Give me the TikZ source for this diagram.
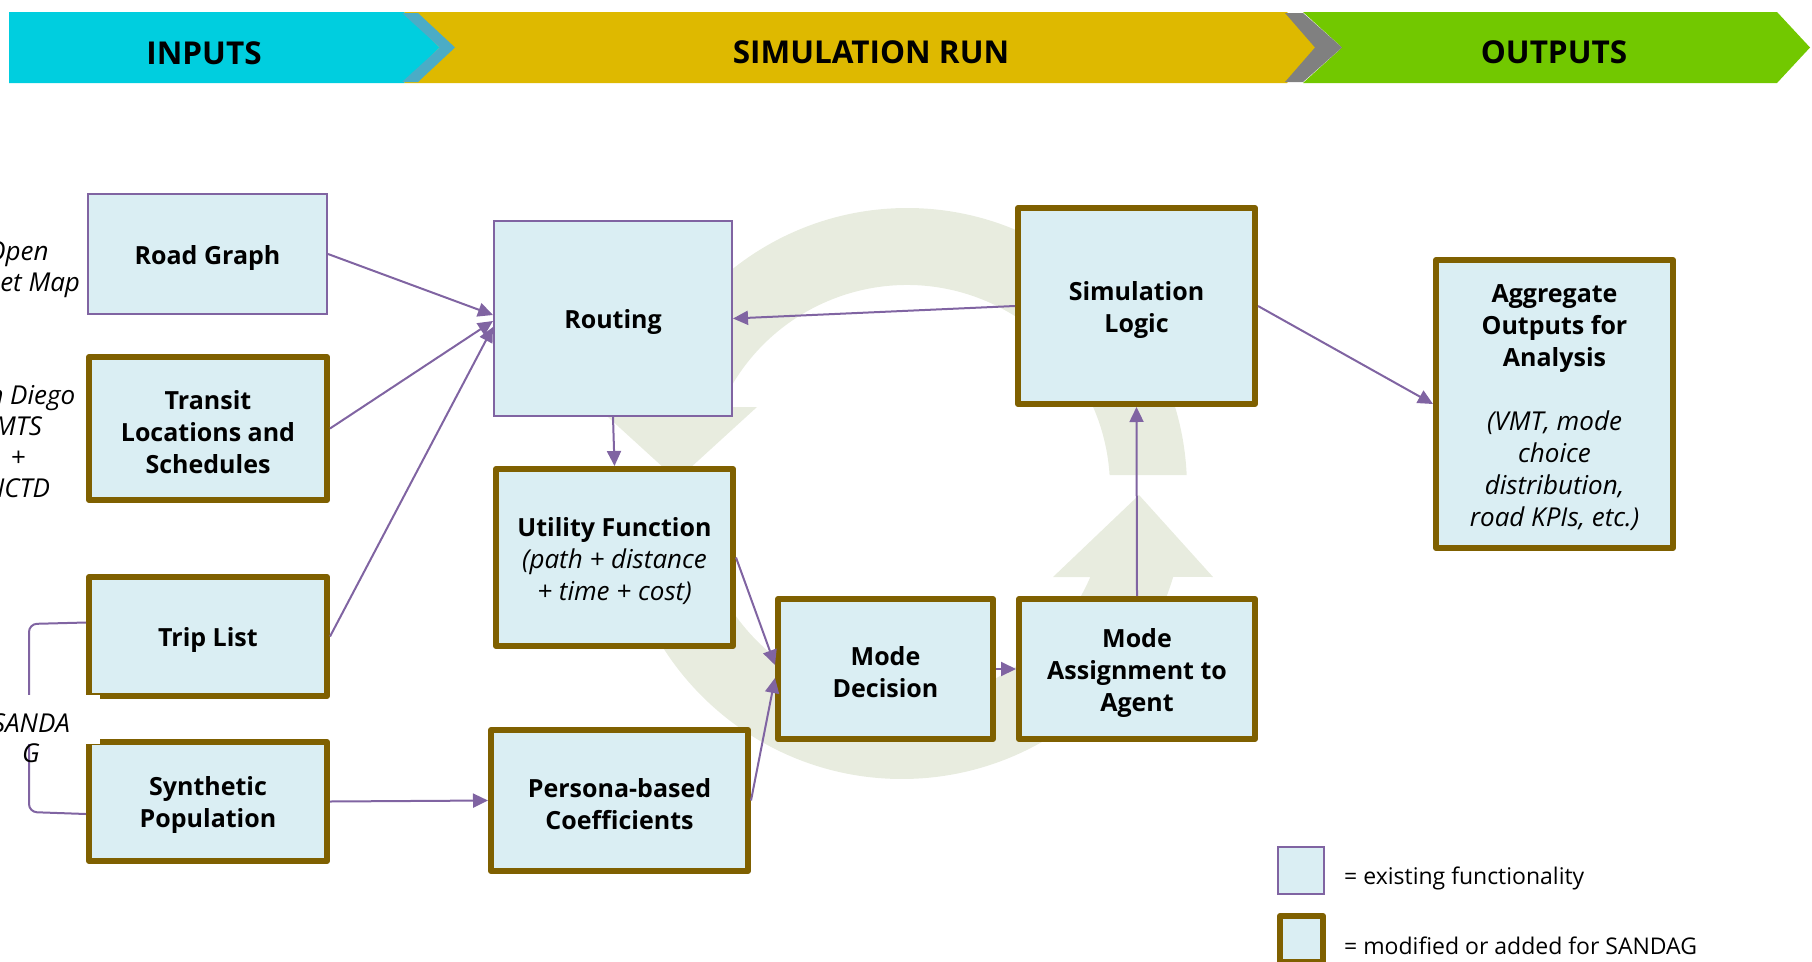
\documentclass[tikz,border=0pt]{standalone}
\usepackage{fontspec}
\setmainfont{Open Sans}
\usetikzlibrary{arrows.meta,calc}
\definecolor{fillblue}{HTML}{DAEEF3}
\definecolor{brownb}{HTML}{7F6000}
\definecolor{purp}{HTML}{8064A2}
\definecolor{ringc}{HTML}{E8ECDF}
\definecolor{cyanb}{HTML}{00CEDF}
\definecolor{yellowb}{HTML}{DEB900}
\definecolor{greenb}{HTML}{72C800}
\definecolor{stripeb}{HTML}{4BACC6}
\definecolor{stripeg}{HTML}{808080}
\newcommand\tup{\rule{0pt}{26pt}}
\newcommand\itl{\fontsize{26}{32}\selectfont\mdseries\itshape}
\begin{document}
\begin{tikzpicture}[x=1pt,y=-1pt,
  box/.style={rectangle, fill=fillblue, inner sep=0pt, align=center,
    font=\fontsize{25}{32}\selectfont\bfseries},
  thinbox/.style={box, draw=purp, line width=2pt},
  thickbox/.style={box, draw=brownb, line width=6pt, line join=round},
  conn/.style={draw=purp, line width=2pt, -{Triangle[length=15pt,width=14pt]}},
  bantext/.style={font=\fontsize{31.5}{36}\selectfont\bfseries, inner sep=0pt},
  lbl/.style={font=\fontsize{26}{31}\selectfont\itshape, align=center, inner sep=0pt},
  legtext/.style={font=\fontsize{23}{28}\selectfont, anchor=west, inner sep=0pt}
]
\useasboundingbox (0,0) rectangle (1812,961);
\clip (0,0) rectangle (1812,961);

% ---- banner ----
\fill[cyanb] (9,12) -- (404,12) -- (440,47.5) -- (404,83) -- (9,83) -- cycle;
\fill[yellowb] (404,12) -- (1287,12) -- (1316,47.5) -- (1287,83) -- (404,83) -- (440,47.5) -- cycle;
\fill[stripeb] (402,13) -- (418,13) -- (455,47.5) -- (418,82) -- (402,82) -- (440,47.5) -- cycle;
\fill[greenb] (1303,12) -- (1777,12) -- (1810,47.5) -- (1777,83) -- (1303,83) -- (1342,47.5) -- cycle;
\fill[stripeg] (1285,13) -- (1303,13) -- (1342,47.5) -- (1303,82) -- (1285,82) -- (1315,47.5) -- cycle;
\node[bantext] (tin) at (204,53.5) {INPUTS};
\node[bantext] (tsim) at (871,52.5) {SIMULATION RUN};
\node[bantext] (tout) at (1554,52.5) {OUTPUTS};

% ---- background cycle arrows ----
\coordinate (C) at (907,488);
\fill[ringc] ($(C)+(-2.66:280)$) arc[start angle=-2.66, end angle=-163.2, radius=280]
  -- (597,407) -- (677,480) -- (757,407)
  -- ($(C)+(-156.5:203)$) arc[start angle=-156.5, end angle=-3.67, radius=203] -- cycle;
\coordinate (C2) at (902,496);
\fill[ringc] ($(C2)+(179.2:283)$) arc[start angle=179.2, end angle=16.6, radius=283]
  -- (1213,577) -- (1139,495) -- (1053,577)
  -- ($(C2)+(23.3:205)$) arc[start angle=23.3, end angle=178.9, radius=205] -- cycle;

% ---- boxes ----
\node[thinbox, minimum width=239pt, minimum height=120pt] (road) at (207.5,254) {\tup Road Graph};
\node[thickbox, minimum width=238pt, minimum height=143pt] (transit) at (208,428.5) {\tup Transit\\Locations and\\Schedules};
\node[thickbox, minimum width=238pt, minimum height=119pt] (trip) at (208,636.5) {\tup Trip List};
\node[thickbox, minimum width=238pt, minimum height=119pt] (synth) at (208,801.5) {\tup Synthetic\\Population};
\node[thinbox, minimum width=238pt, minimum height=195pt] (routing) at (613,318.5) {\tup Routing};
\node[thickbox, minimum width=237pt, minimum height=177pt] (utility) at (614.5,557.5)
  {\tup Utility Function\\{\itl (path + distance}\\{\itl + time + cost)}};
\node[thickbox, minimum width=257pt, minimum height=141pt] (persona) at (619.5,800.5) {\tup Persona-based\\Coefficients};
\node[thickbox, minimum width=215pt, minimum height=140pt] (md) at (885.5,669) {\tup Mode\\Decision};
\node[thickbox, minimum width=236pt, minimum height=140pt] (ma) at (1137,669) {\tup Mode\\Assignment to\\Agent};
\node[thickbox, minimum width=237pt, minimum height=196pt] (sim) at (1136.5,306) {\tup Simulation\\Logic};
\node[thickbox, minimum width=237pt, minimum height=288pt] (agg) at (1554.5,404)
  {\tup Aggregate\\Outputs for\\Analysis\\[32pt]{\itl (VMT, mode}\\{\itl choice}\\{\itl distribution,}\\{\itl road KPIs, etc.)}};

% ---- legend ----
\node[thinbox, minimum width=46pt, minimum height=47pt] (leg1) at (1301,870.5) {};
\node[thickbox, minimum width=43pt, minimum height=46pt] (leg2) at (1301.5,939) {};
\node[legtext] (legt1) at (1344,878.5) {= existing functionality};
\node[legtext] (legt2) at (1344,945.5) {= modified or added for SANDAG};

% ---- left source labels ----
\node[lbl] (osm) at (17.7,270) {Open\\Street Map};
\node[lbl] (sdl) at (18,442) {San Diego\\MTS\\+\\NCTD};
\draw[purp, line width=2pt, rounded corners=8pt] ([yshift=14pt]trip.west) -- (29,624) -- (29,812) -- ([yshift=-12.5pt]synth.west);
\fill[white] (-5,695) rectangle (100,744);
\node[lbl, font=\fontsize{26}{30}\selectfont\itshape] (sandag) at (31,738) {SANDA\\G};

% ---- connectors ----
\draw[conn] (road.east) -- ([yshift=3.5pt]routing.west);
\draw[conn] (transit.east) -- ([yshift=-2.5pt]routing.west);
\draw[conn] (trip.east) -- ([yshift=-8.5pt]routing.west);
\draw[conn] (routing.south) -- (utility.north);
\draw[conn] (sim.west) -- (routing.east);
\draw[conn] (utility.east) -- ([yshift=4pt]md.west);
\draw[conn] (persona.east) -- ([yshift=-9pt]md.west);
\draw[conn] (synth.east) -- (persona.west);
\draw[conn] (md.east) -- (ma.west);
\draw[conn] (ma.north) -- (sim.south);
\draw[conn] (sim.east) -- (agg.west);
\end{tikzpicture}
\end{document}
